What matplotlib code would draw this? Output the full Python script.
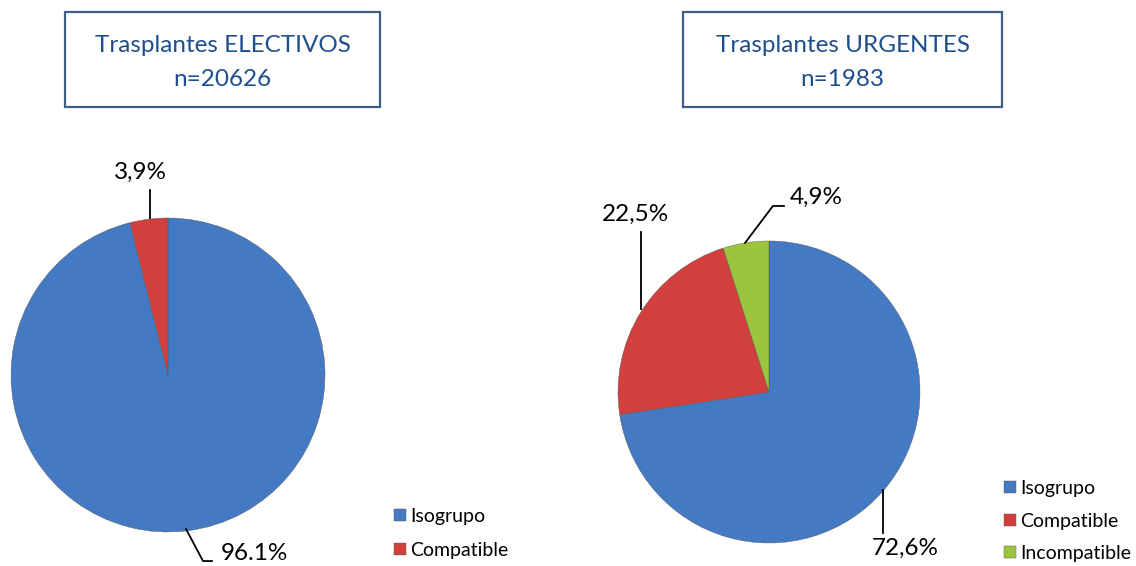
import matplotlib.pyplot as plt
from matplotlib.patches import Rectangle

plt.rcParams['font.family'] = ['Lato', 'DejaVu Sans']

# data
elect_labels = ['Isogrupo', 'Compatible']
elect_values = [96.1, 3.9]
elect_text = ['96.1%', '3,9%']
urg_labels = ['Isogrupo', 'Compatible', 'Incompatible']
urg_values = [72.6, 22.5, 4.9]
urg_text = ['72,6%', '22,5%', '4,9%']

colors = ['#4479C4', '#D2403D', '#9CC53D']
title_col = '#1F4E8C'
W, H = 1136, 566

fig = plt.figure(figsize=(W / 100, H / 100), dpi=100)


def px_axes(cx, cy, r):
    return fig.add_axes([(cx - r) / W, (H - cy - r) / H, 2 * r / W, 2 * r / H])


def draw_pie(ax, values, labels):
    wedges, _ = ax.pie(values, colors=colors[:len(values)], startangle=90,
                       counterclock=False, radius=1,
                       wedgeprops=dict(edgecolor='#555555', linewidth=0.3))
    ax.set_xlim(-1, 1)
    ax.set_ylim(-1, 1)
    ax.set_aspect('equal')
    ax.axis('off')
    return wedges


def callout(ax, pts, text, tx, ty):
    xs = [p[0] for p in pts]
    ys = [p[1] for p in pts]
    ax.plot(xs, ys, color='black', lw=1.3, clip_on=False)
    ax.text(tx, ty, text, ha='center', va='center', fontsize=17.5, clip_on=False)


def title_box(x0, x1, y0, y1, line1, line2):
    fig.add_artist(Rectangle((x0 / W, 1 - y1 / H), (x1 - x0) / W, (y1 - y0) / H,
                             transform=fig.transFigure, fill=False,
                             edgecolor='#3E5F86', lw=1.6))
    cx = (x0 + x1) / 2 / W
    fig.text(cx, 1 - 46 / H, line1, ha='center', va='center', fontsize=17.5, color=title_col)
    fig.text(cx, 1 - 80 / H, line2, ha='center', va='center', fontsize=17.5, color=title_col)


# left pie: electivos
ax1 = px_axes(168, 375, 157)
w1 = draw_pie(ax1, elect_values, elect_labels)
callout(ax1, [(-0.115, 1.0), (-0.115, 1.178)], elect_text[1], -0.178, 1.293)
callout(ax1, [(0.115, -0.981), (0.223, -1.185), (0.280, -1.185)], elect_text[0], 0.55, -1.135)
ax1.legend(w1, elect_labels, loc='upper left', bbox_to_anchor=(394 / W, 1 - 508 / H),
           bbox_transform=fig.transFigure, frameon=False, fontsize=14,
           handlelength=0.6, handleheight=0.6, handletextpad=0.25, labelspacing=0.85,
           borderpad=0, borderaxespad=0)

# right pie: urgentes
ax2 = px_axes(769, 392, 151)
w2 = draw_pie(ax2, urg_values, urg_labels)
callout(ax2, [(-0.848, 1.06), (-0.848, 0.55)], urg_text[1], -0.887, 1.179)
callout(ax2, [(-0.159, 0.987), (0.026, 1.232), (0.099, 1.232)], urg_text[2], 0.31, 1.291)
callout(ax2, [(0.755, -0.652), (0.755, -0.934)], urg_text[0], 0.901, -1.033)
ax2.legend(w2, urg_labels, loc='upper left', bbox_to_anchor=(1004 / W, 1 - 480 / H),
           bbox_transform=fig.transFigure, frameon=False, fontsize=14,
           handlelength=0.6, handleheight=0.6, handletextpad=0.25, labelspacing=0.8,
           borderpad=0, borderaxespad=0)

title_box(65, 380, 12, 107, 'Trasplantes ELECTIVOS', 'n=20626')
title_box(683, 1002, 12, 107, 'Trasplantes URGENTES', 'n=1983')

fig.savefig('out.png', dpi=100)
